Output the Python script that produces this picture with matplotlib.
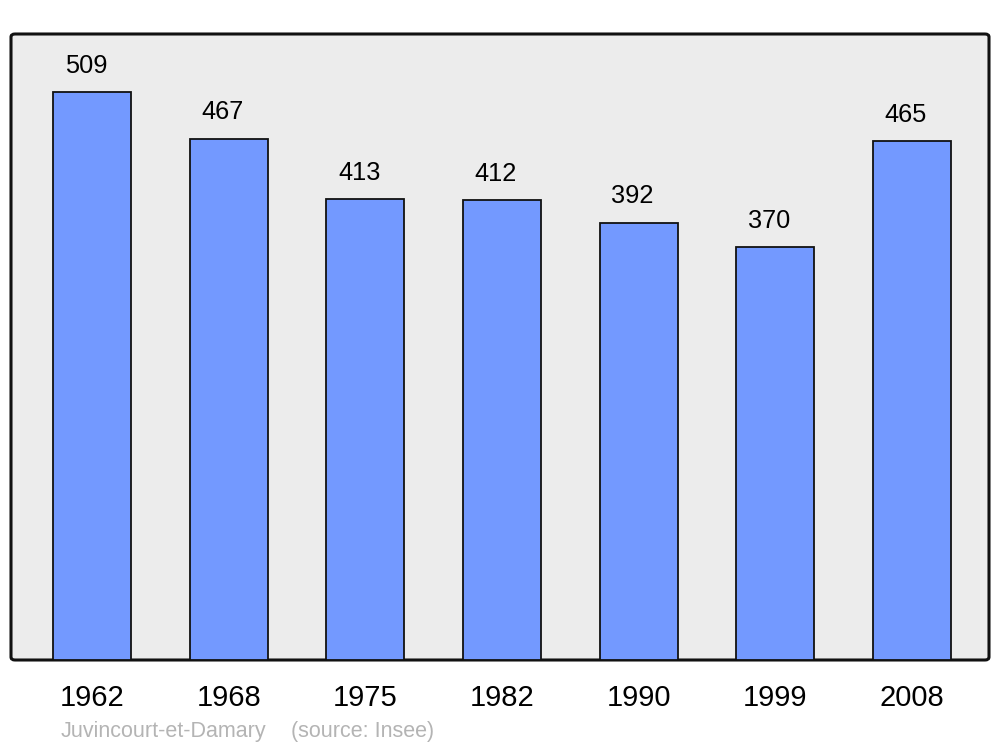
import matplotlib.pyplot as plt
from matplotlib.patches import FancyBboxPatch

plt.rcParams['font.family'] = ['Liberation Sans', 'DejaVu Sans']

years = ["1962", "1968", "1975", "1982", "1990", "1999", "2008"]
population = [509, 467, 413, 412, 392, 370, 465]

fig = plt.figure(figsize=(10, 7.47), dpi=100)
ax = fig.add_axes([0.011, 87 / 747, 0.978, 626 / 747])
ax.set_facecolor("none")
ax.set_zorder(1)

# rounded background frame
frame = FancyBboxPatch((0.011, 87 / 747), 0.978, 626 / 747,
                       boxstyle="round,pad=0,rounding_size=0.004",
                       transform=fig.transFigure, facecolor="#ececec",
                       edgecolor="#111111", linewidth=2.2, zorder=-1)
fig.patches.append(frame)

x = range(len(years))
ax.bar(x, population, width=0.57, color="#7399ff", edgecolor="#111111",
       linewidth=1.3, zorder=2)
for i, v in zip(x, population):
    ax.text(i - 0.045, v + 13, str(v), ha="center", va="bottom", fontsize=18.3)

ax.set_xlim(-0.593, 6.563)
ax.set_ylim(0, 561)
for s in ax.spines.values():
    s.set_visible(False)
ax.set_yticks([])
ax.set_xticks(list(x))
ax.set_xticklabels(years, fontsize=21)
ax.tick_params(axis="x", length=0, pad=17)

fig.text(0.061, 15 / 747, "Juvincourt-et-Damary", color="#b4b4b4", fontsize=15.5,
         ha="left", va="center")
fig.text(0.291, 15 / 747, "(source: Insee)", color="#b4b4b4", fontsize=15.5,
         ha="left", va="center")

fig.savefig("out.png", dpi=100)
